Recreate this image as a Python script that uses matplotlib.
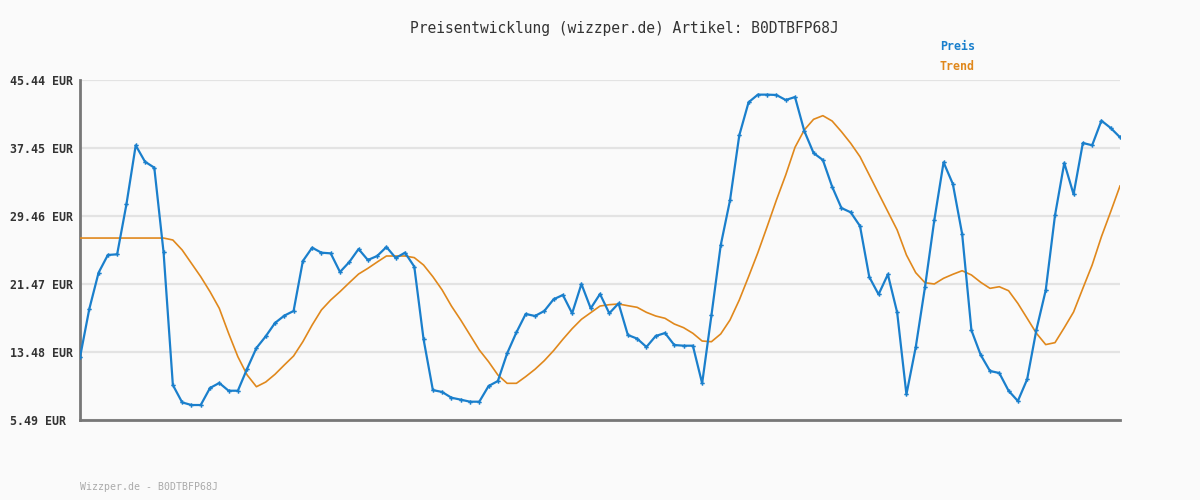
import matplotlib
matplotlib.use("Agg")
import matplotlib.pyplot as plt
import numpy as np

# price readings (EUR), one per sample
preis = [
    12.86, 18.53, 22.80, 24.88, 24.96, 30.83, 37.76, 35.84, 35.14, 25.19,
    9.60, 7.56, 7.25, 7.25, 9.25, 9.84, 8.93, 8.93, 11.52, 13.95,
    15.32, 16.89, 17.75, 18.30, 24.17, 25.74, 25.15, 25.07, 22.88, 24.05,
    25.58, 24.29, 24.76, 25.82, 24.53, 25.15, 23.51, 14.97, 9.01, 8.78,
    8.11, 7.88, 7.64, 7.64, 9.48, 10.07, 13.32, 15.79, 17.95, 17.71,
    18.30, 19.67, 20.18, 18.03, 21.47, 18.61, 20.29, 18.03, 19.19, 15.48,
    15.05, 14.07, 15.36, 15.71, 14.30, 14.22, 14.22, 9.80, 17.79, 26.02,
    31.30, 38.94, 42.82, 43.72, 43.72, 43.68, 43.09, 43.44, 39.45, 36.86,
    36.04, 32.90, 30.40, 29.89, 28.28, 22.29, 20.25, 22.60, 18.14, 8.50,
    14.03, 21.12, 28.96, 35.77, 33.22, 27.35, 16.03, 13.13, 11.25, 11.01,
    8.93, 7.72, 10.27, 16.11, 20.73, 29.54, 35.69, 32.01, 38.04, 37.77,
    40.66, 39.80, 38.71,
]

trend = [
    26.87, 26.87, 26.87, 26.87, 26.87, 26.87, 26.87, 26.87, 26.87, 26.87,
    26.64, 25.47, 23.90, 22.33, 20.57, 18.61, 15.68, 12.93, 10.78, 9.40,
    9.95, 10.86, 11.95, 13.01, 14.69, 16.65, 18.42, 19.59, 20.57, 21.62,
    22.64, 23.31, 24.05, 24.76, 24.76, 24.76, 24.57, 23.70, 22.33, 20.77,
    18.88, 17.24, 15.48, 13.72, 12.34, 10.78, 9.80, 9.80, 10.59, 11.45,
    12.46, 13.64, 14.97, 16.22, 17.32, 18.10, 18.88, 19.04, 19.12, 18.92,
    18.73, 18.14, 17.71, 17.44, 16.77, 16.34, 15.68, 14.77, 14.69, 15.60,
    17.24, 19.59, 22.33, 25.15, 28.21, 31.34, 34.28, 37.53, 39.57, 40.82,
    41.25, 40.62, 39.37, 38.00, 36.43, 34.28, 32.12, 29.97, 27.82, 24.88,
    22.80, 21.62, 21.47, 22.14, 22.61, 23.03, 22.53, 21.67, 20.96, 21.15,
    20.68, 19.19, 17.44, 15.68, 14.35, 14.58, 16.34, 18.18, 20.96, 23.70,
    27.03, 29.97, 32.99,
]

y_ticks = [5.49, 13.48, 21.47, 29.46, 37.45, 45.44]
tick_labels = [f"{v:.2f} EUR" for v in y_ticks]

title = "Preisentwicklung (wizzper.de) Artikel: B0DTBFP68J"
footer = "Wizzper.de - B0DTBFP68J"

BG = "#fafafa"
BLUE = "#1a7fcc"
ORANGE = "#e0881c"
MONO = ["DejaVu Sans Mono"]

fig = plt.figure(figsize=(12, 5), dpi=100, facecolor=BG)
ax = fig.add_axes([80 / 1200, 80 / 500, 1040 / 1200, 340 / 500], facecolor=BG)

x = np.arange(len(preis))
ax.plot(x, trend, color=ORANGE, lw=1.2, zorder=3)
ax.plot(x, preis, color=BLUE, lw=1.6, marker="P", markersize=3.2,
        markeredgewidth=0, zorder=4)

ax.set_xlim(0, len(preis) - 1)
ax.set_ylim(y_ticks[0], y_ticks[-1])
ax.set_xticks([])
ax.set_yticks(y_ticks)
ax.set_yticklabels(tick_labels, fontfamily=MONO, fontweight="bold",
                   fontsize=8.4, color="#333333")
for lab in ax.get_yticklabels():
    lab.set_horizontalalignment("left")
ax.tick_params(axis="y", length=0, pad=50.4)

ax.grid(axis="y", color="#e3e3e3", lw=1.6, zorder=0)
for s in ("top", "right"):
    ax.spines[s].set_visible(False)
for s in ("left", "bottom"):
    ax.spines[s].set_color("#777777")
    ax.spines[s].set_linewidth(2)

fig.text(624 / 1200, 1 - 28 / 500, title, ha="center", va="center",
         fontfamily=MONO, fontsize=10.5, color="#333333")
fig.text(940 / 1200, 1 - 47 / 500, "Preis", ha="left", va="center",
         fontfamily=MONO, fontweight="bold", fontsize=8.4, color=BLUE)
fig.text(940 / 1200, 1 - 67 / 500, "Trend", ha="left", va="center",
         fontfamily=MONO, fontweight="bold", fontsize=8.4, color=ORANGE)
fig.text(80 / 1200, 1 - 487 / 500, footer, ha="left", va="center",
         fontfamily=MONO, fontsize=7.1, color="#aaaaaa")

fig.savefig("out.png", dpi=100, facecolor=BG)
